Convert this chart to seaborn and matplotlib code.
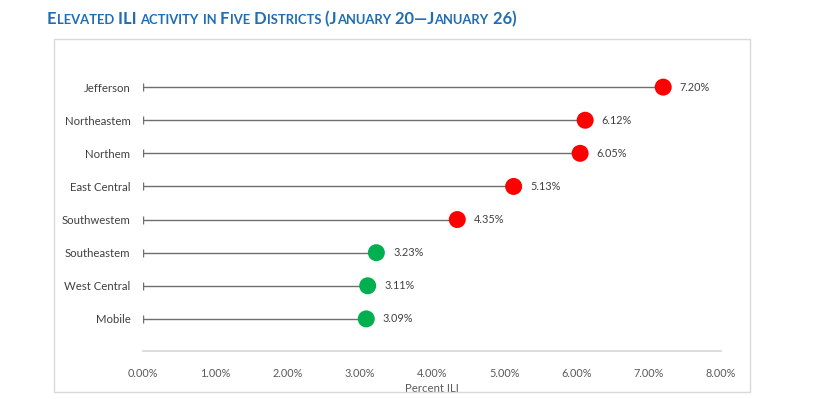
import numpy as np
import pandas as pd
import matplotlib.pyplot as plt
import matplotlib.patches as mpatches
import seaborn as sns

districts = ['Jefferson', 'Northeastern', 'Northern', 'East Central',
             'Southwestern', 'Southeastern', 'West Central', 'Mobile']
shown_names = ['Jefferson', 'Northeastem', 'Northem', 'East Central',
               'Southwestem', 'Southeastem', 'West Central', 'Mobile']
pct_ili = [7.20, 6.12, 6.05, 5.13, 4.35, 3.23, 3.11, 3.09]
level = ['high', 'high', 'high', 'high', 'high', 'low', 'low', 'low']
x_ticks = [0, 1, 2, 3, 4, 5, 6, 7, 8]

df = pd.DataFrame({'district': shown_names, 'pct': pct_ili, 'level': level})
df['pos'] = np.arange(len(df))

sns.set_theme(style='white')
plt.rcParams['font.family'] = ['Lato', 'DejaVu Sans']

fig = plt.figure(figsize=(8.14, 3.99), dpi=100)
ax = fig.add_axes([143 / 814, 1 - 351 / 399, (721 - 143) / 814, (351 - 55) / 399])

# chart frame
fig.patches.append(mpatches.Rectangle((54 / 814, 1 - 392 / 399), (750 - 54) / 814,
                                      (392 - 39) / 399, transform=fig.transFigure,
                                      fill=False, edgecolor='#d9d9d9', lw=1.0))

# stems
ax.hlines(df['pos'], 0, df['pct'], color='#6f6f6f', lw=1.0, zorder=1)
ax.scatter(np.zeros(len(df)), df['pos'], marker='|', s=30, color='#6f6f6f', lw=1.0, zorder=1)

sns.scatterplot(data=df, x='pct', y='pos', hue='level',
                palette={'high': '#ff0000', 'low': '#00b050'},
                s=150, edgecolor='none', legend=False, ax=ax, zorder=3)

for p, v in zip(df['pos'], df['pct']):
    ax.annotate(f'{v:.2f}%', (v, p), xytext=(12, 0), textcoords='offset points',
                va='center', ha='left', fontsize=7.8, color='#404040')

ax.set_xlim(0, 8)
ax.set_ylim(len(df) - 1 + 0.97, -0.97)
ax.set_xticks(x_ticks)
ax.set_xticklabels([f'{t:.2f}%' for t in x_ticks], fontsize=7.8, color='#595959')
ax.set_yticks(df['pos'])
ax.set_yticklabels(df['district'], fontsize=8.2, color='#404040')
ax.tick_params(axis='y', length=0, pad=9)
ax.tick_params(axis='x', length=0, pad=12)
ax.set_xlabel('Percent ILI', fontsize=8.2, color='#595959', labelpad=3)
ax.set_ylabel('')
for side in ['top', 'right', 'left']:
    ax.spines[side].set_visible(False)
ax.spines['bottom'].set_color('#d9d9d9')
ax.spines['bottom'].set_linewidth(1.3)
ax.set_facecolor('none')

# small-caps title built from pieces
title = 'Elevated ILI activity in Five Districts (January 20\u2014January 26)'
big, small = 11.9, 9.4
fig.canvas.draw()
renderer = fig.canvas.get_renderer()
x = 47 / 814
y = 1 - 24 / 399
chunks = []
for ch in title:
    kind = 'small' if ch.islower() else 'big'
    if chunks and chunks[-1][0] == kind:
        chunks[-1][1] += ch.upper()
    else:
        chunks.append([kind, ch.upper()])
for kind, txt in chunks:
    t = fig.text(x, y, txt, fontsize=big if kind == 'big' else small,
                 fontweight='bold', color='#1f6db5', ha='left', va='baseline')
    bb = t.get_window_extent(renderer=renderer)
    x += bb.width / fig.bbox.width

fig.savefig('out.png', dpi=100)
